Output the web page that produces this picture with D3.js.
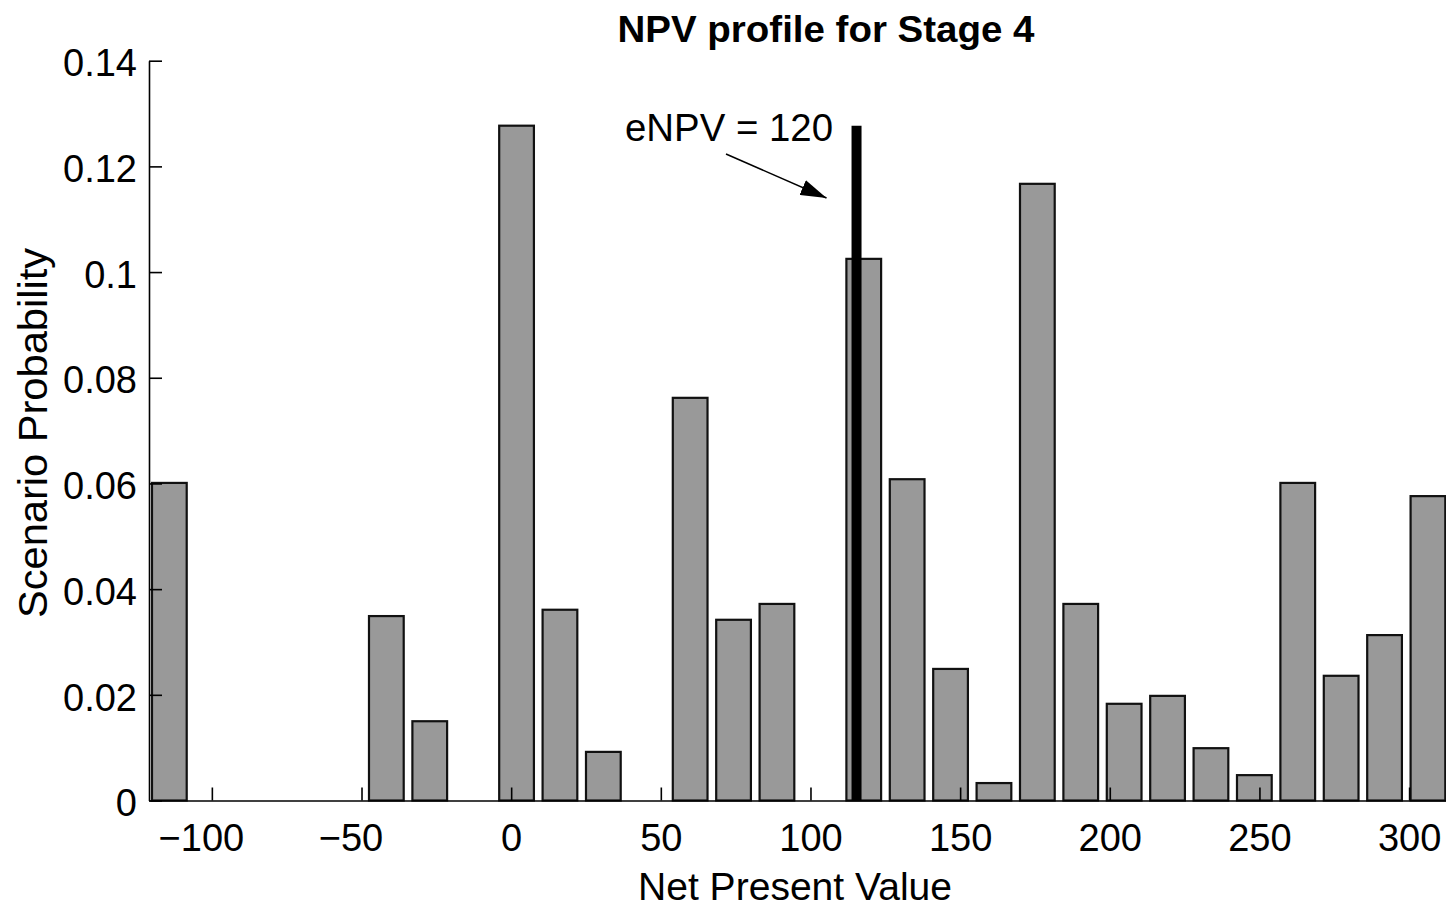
<!DOCTYPE html>
<html>
<head>
<meta charset="utf-8">
<title>NPV profile for Stage 4</title>
<script src="https://cdn.jsdelivr.net/npm/d3@7"></script>
<style>
  html, body { margin: 0; padding: 0; background: #ffffff; }
  svg { display: block; }
  text { font-family: "Liberation Sans", Arial, Helvetica, sans-serif; fill: #000; }
</style>
</head>
<body>
<div id="chart"></div>
<script>
// Scenario histogram: bin centres (NPV) and the probability of each bin
const binCenters = [
  -114.2, -99.7, -85.2, -70.7, -56.2, -41.7, -27.2, -12.7, 1.8, 16.3,
  30.8, 45.3, 59.8, 74.3, 88.8, 103.3, 117.8, 132.3, 146.8, 161.3,
  175.8, 190.3, 204.8, 219.3, 233.8, 248.3, 262.8, 277.3, 291.8, 306.3
];
const probabilities = [
  0.0601, 0, 0, 0, 0, 0.0349, 0.0150, 0, 0.1277, 0.0361,
  0.0092, 0, 0.0762, 0.0342, 0.0372, 0, 0.1025, 0.0608, 0.0249, 0.0033,
  0.1167, 0.0372, 0.0183, 0.0198, 0.0099, 0.0048, 0.0601, 0.0236, 0.0313, 0.0576
];
const binWidth = 14.5;

// Axis ticks
const xTicks = [-100, -50, 0, 50, 100, 150, 200, 250, 300];
const yTicks = [0, 0.02, 0.04, 0.06, 0.08, 0.1, 0.12, 0.14];

const titleText = "NPV profile for Stage 4";
const xLabelText = "Net Present Value";
const yLabelText = "Scenario Probability";

const W = 1446, H = 907;
const plot = { left: 149, top: 60.7, bottom: 800.5, right: 1449.5 };

const svg = d3.select("#chart").append("svg")
  .attr("width", W).attr("height", H);

const x = d3.scaleLinear().domain([-121, 313.5]).range([plot.left, plot.right]);
const y = d3.scaleLinear().domain([0, 0.14]).range([plot.bottom, plot.top]);

// Bars (80% of the bin width)
const bins = binCenters.map((c, i) => ({ c, p: probabilities[i] }));
svg.append("g").selectAll("rect")
  .data(bins.filter(d => d.p > 0))
  .join("rect")
  .attr("x", d => x(d.c - binWidth * 0.4))
  .attr("width", d => x(d.c + binWidth * 0.4) - x(d.c - binWidth * 0.4))
  .attr("y", d => y(d.p))
  .attr("height", d => y(0) - y(d.p))
  .attr("fill", "#999999")
  .attr("stroke", "#111")
  .attr("stroke-width", 2.2);

// Expected NPV = probability-weighted mean of the bins
const eNPV = d3.sum(bins, d => d.c * d.p);
const pMax = d3.max(probabilities);

svg.append("line")
  .attr("x1", x(eNPV)).attr("x2", x(eNPV))
  .attr("y1", y(0)).attr("y2", y(pMax))
  .attr("stroke", "#000").attr("stroke-width", 10);

// Axes with inward ticks
const xAxis = d3.axisBottom(x)
  .tickValues(xTicks)
  .tickFormat(d3.format("d"))
  .tickSizeInner(-13).tickSizeOuter(0).tickPadding(24);
const yAxis = d3.axisLeft(y)
  .tickValues(yTicks)
  .tickFormat(d3.format("~g"))
  .tickSizeInner(-13).tickSizeOuter(0).tickPadding(12);

const gx = svg.append("g").attr("transform", `translate(0,${plot.bottom})`).call(xAxis);
const gy = svg.append("g").attr("transform", `translate(${plot.left},0)`).call(yAxis);
[gx, gy].forEach(g => {
  g.select(".domain").attr("stroke", "#000").attr("stroke-width", 1.6);
  g.selectAll(".tick line").attr("stroke", "#000").attr("stroke-width", 1.6);
  g.selectAll(".tick text")
    .attr("font-size", 38)
    .attr("font-family", "'Liberation Sans', Arial, Helvetica, sans-serif")
    .attr("fill", "#000");
});
gy.selectAll(".tick text").attr("dy", "0.40em");
// negative labels are centred on their digits, with the minus hanging left
gx.selectAll(".tick text").attr("dx", d => d < 0 ? -11 : 0);

// Annotation: label and arrow pointing at the eNPV line
const defs = svg.append("defs");
defs.append("marker")
  .attr("id", "arrowHead")
  .attr("viewBox", "0 0 26 16")
  .attr("refX", 26).attr("refY", 8)
  .attr("markerWidth", 26).attr("markerHeight", 16)
  .attr("markerUnits", "userSpaceOnUse")
  .attr("orient", "auto")
  .append("path").attr("d", "M0,0 L26,8 L0,16 Z").attr("fill", "#000");

const labelValue = Math.round(eNPV / 10) * 10;
svg.append("text")
  .attr("x", 625).attr("y", 141)
  .attr("font-size", 38)
  .attr("textLength", 208).attr("lengthAdjust", "spacingAndGlyphs")
  .text(`eNPV = ${labelValue}`);

svg.append("line")
  .attr("x1", 726).attr("y1", 154)
  .attr("x2", x(eNPV) - 30).attr("y2", 198)
  .attr("stroke", "#000").attr("stroke-width", 1.5)
  .attr("marker-end", "url(#arrowHead)");

// Title and axis labels
svg.append("text")
  .attr("x", 826).attr("y", 42)
  .attr("text-anchor", "middle")
  .attr("font-size", 36).attr("font-weight", "bold")
  .attr("textLength", 417).attr("lengthAdjust", "spacingAndGlyphs")
  .text(titleText);

svg.append("text")
  .attr("x", 795).attr("y", 900)
  .attr("text-anchor", "middle")
  .attr("font-size", 38)
  .attr("textLength", 314).attr("lengthAdjust", "spacingAndGlyphs")
  .text(xLabelText);

svg.append("text")
  .attr("transform", "translate(47,433) rotate(-90)")
  .attr("text-anchor", "middle")
  .attr("font-size", 40)
  .attr("textLength", 370).attr("lengthAdjust", "spacingAndGlyphs")
  .text(yLabelText);
</script>
</body>
</html>
